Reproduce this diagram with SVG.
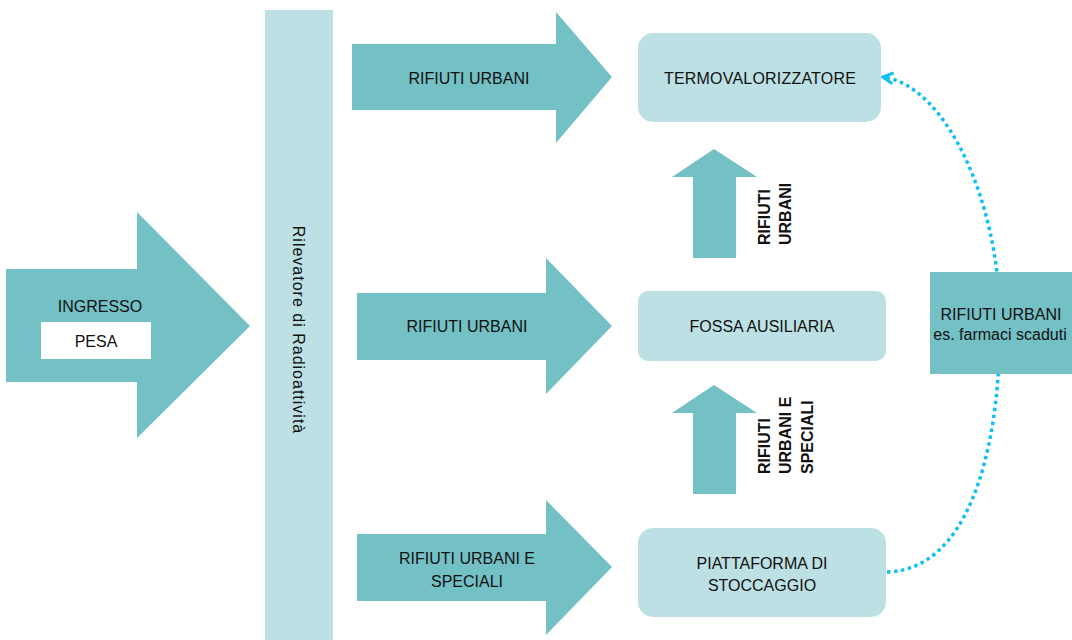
<svg xmlns="http://www.w3.org/2000/svg" width="1072" height="640" viewBox="0 0 1072 640">
<style>
.arr{fill:#73C0C5}
.box{fill:#BCE0E3}
.t{font-family:"Liberation Sans",Arial,sans-serif;font-size:16px;fill:#111;text-anchor:middle}
.vb{font-family:"Liberation Sans",Arial,sans-serif;font-size:16px;font-weight:bold;fill:#111}
.dot{fill:none;stroke:#10C0F4;stroke-width:3.5;stroke-dasharray:3.5 3.5}
</style>
<defs>
<marker id="open" viewBox="0 0 14 14" refX="12" refY="7" markerWidth="14" markerHeight="14" markerUnits="userSpaceOnUse" orient="auto">
<path d="M2 1.5 L12 7 L2 12.5" fill="none" stroke="#10C0F4" stroke-width="3"/>
</marker>
</defs>
<rect width="1072" height="640" fill="#fff"/>

<g id="connectors">
<path class="dot" d="M887 572 C965 570 1000 460 1000 323 C1000 200 945 85 883 77" marker-end="url(#open)"/>
</g>

<g id="ingresso">
<polygon class="arr" points="6,269 137,269 137,212 250,326 137,438 137,382 6,382"/>
<text class="t" x="100" y="312">INGRESSO</text>
<rect x="41" y="322" width="110" height="37" fill="#fff"/>
<text class="t" x="96" y="347">PESA</text>
</g>

<g id="rilevatore">
<rect class="box" x="265" y="10" width="68" height="640"/>
<text class="t" style="letter-spacing:1px" transform="translate(293 330) rotate(90)">Rilevatore  di Radioattività</text>
</g>

<g id="freccia1">
<polygon class="arr" points="352,44 556,44 556,12 612,77 556,143 556,110 352,110"/>
<text class="t" x="469" y="84">RIFIUTI  URBANI</text>
</g>

<g id="freccia2">
<polygon class="arr" points="357,293 546,293 546,258 612,326 546,394 546,360 357,360"/>
<text class="t" x="467" y="332">RIFIUTI  URBANI</text>
</g>

<g id="freccia3">
<polygon class="arr" points="357,534 546,534 546,500 612,567 546,635 546,601 357,601"/>
<text class="t" x="467" y="564">RIFIUTI  URBANI  E</text>
<text class="t" x="467" y="587">SPECIALI</text>
</g>

<g id="termovalorizzatore">
<rect class="box" x="638" y="33" width="243" height="89" rx="15"/>
<text class="t" style="letter-spacing:0.2px" x="760" y="84">TERMOVALORIZZATORE</text>
</g>

<g id="fossa">
<rect class="box" x="638" y="291" width="248" height="70" rx="10"/>
<text class="t" x="762" y="332">FOSSA  AUSILIARIA</text>
</g>

<g id="piattaforma">
<rect class="box" x="638" y="528" width="248" height="89" rx="15"/>
<text class="t" x="762" y="569">PIATTAFORMA  DI</text>
<text class="t" x="762" y="591">STOCCAGGIO</text>
</g>

<g id="su1">
<polygon class="arr" points="693,258 693,177 672,177 714,149 757,177 736,177 736,258"/>
<text class="vb" transform="translate(769.5 245) rotate(-90)">RIFIUTI</text>
<text class="vb" transform="translate(791 245) rotate(-90)">URBANI</text>
</g>

<g id="su2">
<polygon class="arr" points="693,494 693,413 672,413 714,385 757,413 736,413 736,494"/>
<text class="vb" transform="translate(769.5 474) rotate(-90)">RIFIUTI</text>
<text class="vb" transform="translate(791 474) rotate(-90)">URBANI E</text>
<text class="vb" transform="translate(812.5 474) rotate(-90)">SPECIALI</text>
</g>

<g id="farmaci">
<rect class="arr" x="930" y="272" width="150" height="102"/>
<text class="t" x="1001" y="320">RIFIUTI  URBANI</text>
<text class="t" x="1000" y="340">es. farmaci scaduti</text>
</g>
</svg>
